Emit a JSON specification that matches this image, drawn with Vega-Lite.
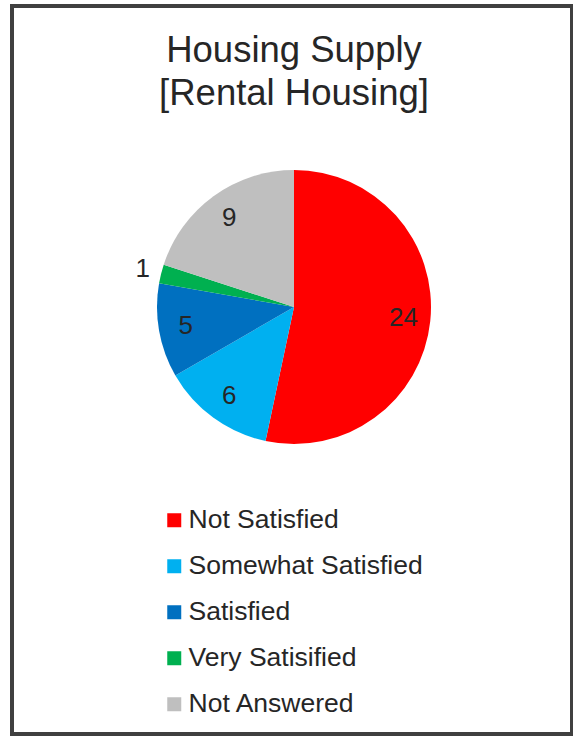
{
  "$schema": "https://vega.github.io/schema/vega-lite/v6.json",
  "width": 560,
  "height": 728,
  "autosize": {"type": "none"},
  "padding": {"left": 12, "top": 6, "right": 1, "bottom": 2},
  "background": "white",
  "view": {"stroke": "#404040", "strokeWidth": 4, "fill": "white"},
  "title": {
    "text": ["Housing Supply", "[Rental Housing]"],
    "orient": "top",
    "anchor": "middle",
    "offset": -106,
    "fontSize": 36.5,
    "lineHeight": 43,
    "font": "Liberation Sans",
    "fontWeight": "normal",
    "color": "#262626",
    "dx": 2
  },
  "config": {
    "view": {"stroke": "#404040", "strokeWidth": 4},
    "font": "Liberation Sans"
  },
  "data": {
    "values": [
      {"category": "Not Satisfied", "count": 24, "rank": 1},
      {"category": "Somewhat Satisfied", "count": 6, "rank": 2},
      {"category": "Satisfied", "count": 5, "rank": 3},
      {"category": "Very Satisified", "count": 1, "rank": 4},
      {"category": "Not Answered", "count": 9, "rank": 5}
    ]
  },
  "encoding": {
    "theta": {"field": "count", "type": "quantitative", "stack": true},
    "order": {"field": "rank", "type": "quantitative"}
  },
  "layer": [
    {
      "mark": {"type": "arc", "radius": 137, "x": {"expr": "width/2 + 2"}, "y": {"expr": "height/2 - 63"}},
      "encoding": {
        "color": {
          "field": "category",
          "type": "nominal",
          "scale": {
            "domain": ["Not Satisfied", "Somewhat Satisfied", "Satisfied", "Very Satisified", "Not Answered"],
            "range": ["#FF0000", "#00B0F0", "#0070C0", "#00B050", "#BFBFBF"]
          },
          "legend": {
            "title": null,
            "orient": "none",
            "legendX": 149,
            "legendY": 501,
            "direction": "vertical",
            "symbolType": "square",
            "symbolSize": 196,
            "symbolStrokeWidth": 0,
            "symbolOpacity": 1,
            "labelFontSize": 26.5,
            "labelFont": "Liberation Sans",
            "labelColor": "#262626",
            "labelOffset": 1,
            "labelLimit": 400,
            "rowPadding": 19,
            "padding": 0
          }
        }
      }
    },
    {
      "mark": {"type": "text", "fontSize": 26, "font": "Liberation Sans", "color": "#262626", "radius": 110, "x": {"expr": "width/2 + 2"}, "y": {"expr": "height/2 - 63"}},
      "encoding": {
        "text": {"condition": {"test": "datum.count >= 2", "field": "count", "type": "quantitative"}, "value": ""}
      }
    },
    {
      "mark": {"type": "text", "fontSize": 26, "font": "Liberation Sans", "color": "#262626", "radius": 156, "x": {"expr": "width/2 + 2"}, "y": {"expr": "height/2 - 63"}},
      "encoding": {
        "text": {"condition": {"test": "datum.count < 2", "field": "count", "type": "quantitative"}, "value": ""}
      }
    }
  ]
}
